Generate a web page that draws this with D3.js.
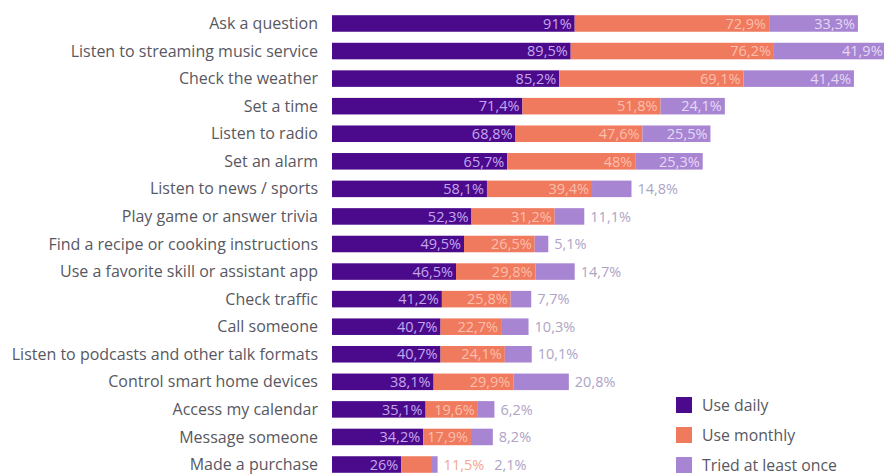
<!DOCTYPE html>
<html><head><meta charset="utf-8">
<script src="https://cdn.jsdelivr.net/npm/d3@7"></script>
<style>body{margin:0;background:#fff;}svg{display:block;font-family:"Open Sans",sans-serif;}</style>
</head><body><svg id="c" width="884" height="476"></svg>
<script>
const categories = ["Ask a question","Listen to streaming music service","Check the weather","Set a time","Listen to radio","Set an alarm","Listen to news / sports","Play game or answer trivia","Find a recipe or cooking instructions","Use a favorite skill or assistant app","Check traffic","Call someone","Listen to podcasts and other talk formats","Control smart home devices","Access my calendar","Message someone","Made a purchase"];
const useDaily   = [91,89.5,85.2,71.4,68.8,65.7,58.1,52.3,49.5,46.5,41.2,40.7,40.7,38.1,35.1,34.2,26];
const useMonthly = [72.9,76.2,69.1,51.8,47.6,48,39.4,31.2,26.5,29.8,25.8,22.7,24.1,29.9,19.6,17.9,11.5];
const triedOnce  = [33.3,41.9,41.4,24.1,25.5,25.3,14.8,11.1,5.1,14.7,7.7,10.3,10.1,20.8,6.2,8.2,2.1];
const seriesNames = ["Use daily","Use monthly","Tried at least once"];

const colors = ["#4b0a8c","#f07a5e","#a785d2"];
const innerText = ["#c3a6ee","#fbbfad","#e6d8f6"];
const outerText = ["#aea4c6","#f4a890","#aea4c6"];

const svg = d3.select("#c");
const rows = categories.map((c,i)=>({cat:c, vals:[useDaily[i],useMonthly[i],triedOnce[i]]}));

const x = d3.scaleLinear().domain([0,100]).range([332,332+266.7]);
const y = d3.scaleBand().domain(categories).range([9.7,478.3]).paddingInner(0.4).paddingOuter(0.2);

const fmt = v => String(v).replace(".", ",") + "%";

// category labels
svg.append("g").selectAll("text").data(rows).join("text")
  .attr("x",318).attr("y",d=>y(d.cat)+y.bandwidth()/2)
  .attr("dy","0.35em").attr("text-anchor","end")
  .attr("font-size",16).attr("fill","#585862")
  .text(d=>d.cat);

const g = svg.append("g");
rows.forEach(r=>{
  let acc = 0;
  const yy = y(r.cat), h = y.bandwidth();
  const segs = r.vals.map((v,k)=>{ const s={k,v,x0:x(acc),x1:x(acc+v)}; acc+=v; return s; });
  const end = x(acc);
  segs.forEach(s=>{
    g.append("rect").attr("x",s.x0).attr("y",yy).attr("width",s.x1-s.x0).attr("height",h).attr("fill",colors[s.k]);
  });
  let cursor = end + 6;
  segs.forEach(s=>{
    const inside = (s.k===0) || (s.k===1 && s.v>=15) || (s.k===2 && s.v>=24);
    if(inside){
      g.append("text").attr("x",s.x1-3).attr("y",yy+h/2).attr("dy","0.36em")
        .attr("text-anchor","end").attr("font-size",14.5).attr("fill",innerText[s.k]).text(fmt(s.v));
    } else {
      const t = g.append("text").attr("x",cursor).attr("y",yy+h/2).attr("dy","0.36em")
        .attr("text-anchor","start").attr("font-size",14.5).attr("fill",outerText[s.k]).text(fmt(s.v));
      cursor += t.node().getComputedTextLength() + 10;
    }
  });
});

// legend
const lg = svg.append("g");
seriesNames.forEach((n,i)=>{
  const ly = 405 + i*30;
  lg.append("rect").attr("x",676).attr("y",ly-8).attr("width",16).attr("height",16).attr("fill",colors[i]);
  lg.append("text").attr("x",702).attr("y",ly).attr("dy","0.35em").attr("font-size",15.8).attr("fill","#585862").text(n);
});
</script></body></html>
